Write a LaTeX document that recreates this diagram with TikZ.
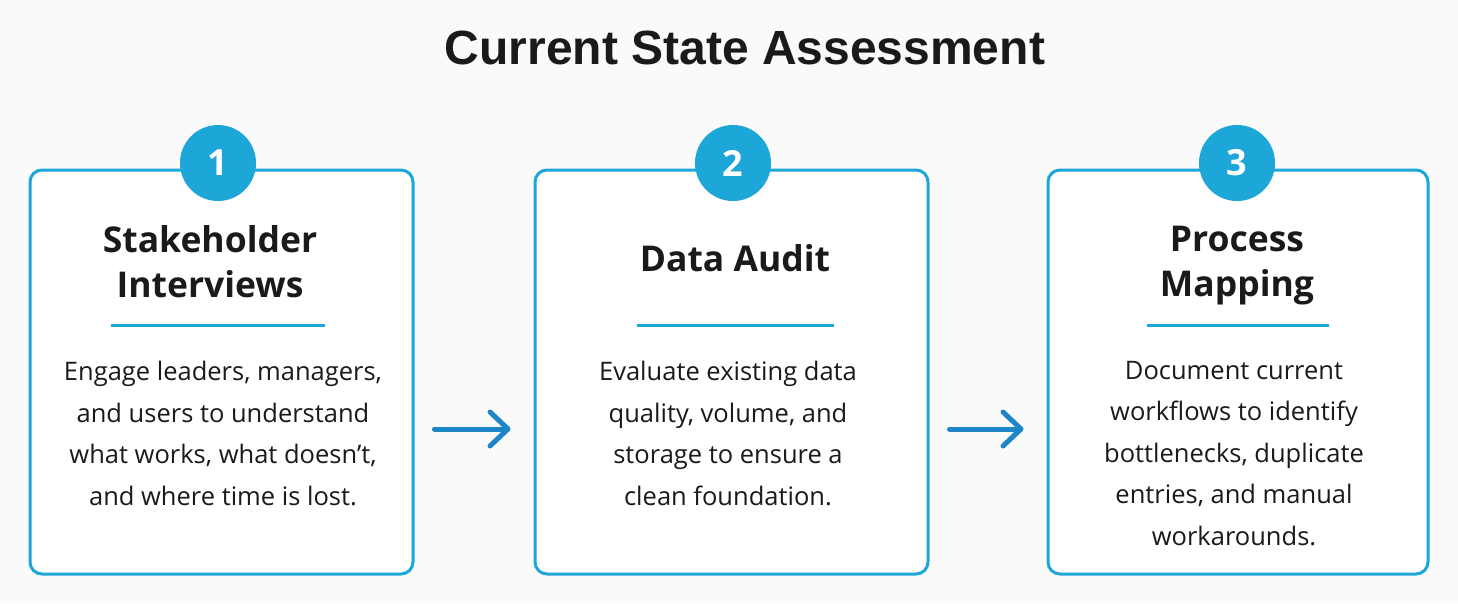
\documentclass[tikz,border=0pt]{standalone}
\usepackage{fontspec}
\setmainfont{Open Sans}
\newfontfamily\titlefont{Liberation Sans}
\usetikzlibrary{arrows.meta, positioning}

\definecolor{boxblue}{HTML}{1DA6D8}
\definecolor{arrowblue}{HTML}{1C86C6}
\definecolor{inktext}{HTML}{1A1A1A}

\tikzset{
  stepbox/.style={draw=boxblue, line width=3pt, rounded corners=12pt, fill=white,
    minimum height=404pt, inner sep=0pt},
  badge/.style={circle, fill=boxblue, minimum size=76pt, inner sep=0pt, text=white,
    font=\fontsize{36}{36}\selectfont\bfseries},
  heading/.style={align=center, text=inktext, font=\fontsize{35.5}{45}\selectfont\bfseries},
  divider/.style={draw=boxblue, line width=3pt},
  body/.style={align=center, text=inktext, anchor=north, inner sep=0pt,
    font=\fontsize{25.5}{41.5}\selectfont},
  flow/.style={draw=arrowblue, line width=5pt, line cap=round,
    -{Straight Barb[length=18pt,width=34pt,round]}}
}

\begin{document}
\begin{tikzpicture}[x=1pt, y=-1pt]
    % Background and page size
    \fill[gray!4] (0,0) rectangle (1458,603);

    % Title
    \node[font=\titlefont\bfseries\fontsize{48}{48}\selectfont, text=inktext] (title) at (745,48) {Current State Assessment};

    % The three step boxes
    \node[stepbox, minimum width=383pt] (box1) at (221.5,372) {};
    \node[stepbox, minimum width=393pt] (box2) at (731.5,372) {};
    \node[stepbox, minimum width=380pt] (box3) at (1238,372) {};

    % Number badges on the top edges
    \node[badge] (num1) at (218,163) {1};
    \node[badge] (num2) at (733,163) {2};
    \node[badge] (num3) at (1237,163) {3};

    % Headings
    \node[heading] (head1) at (210,262) {Stakeholder\\Interviews};
    \node[heading] (head2) at (735,258) {Data Audit};
    \node[heading] (head3) at (1237,266) {Process\\Mapping};

    % Dividers under the headings
    \draw[divider] (111,325) -- (325,325);
    \draw[divider] (637,325) -- (834,325);
    \draw[divider] (1147,325) -- (1329,325);

    % Descriptions
    \node[body] (text1) at (223,361) {Engage leaders, managers,\\and users to understand\\what works, what doesn’t,\\and where time is lost.};
    \node[body] (text2) at (728,361) {Evaluate existing data\\quality, volume, and\\storage to ensure a\\clean foundation.};
    \node[body] (text3) at (1234,361) {Document current\\workflows to identify\\bottlenecks, duplicate\\entries, and manual\\workarounds.};

    % Arrows between the steps
    \draw[flow, shorten <=20pt, shorten >=23pt] ([yshift=-57pt]box1.east) -- ([yshift=-57pt]box2.west);
    \draw[flow, shorten <=20pt, shorten >=23pt] ([yshift=-57pt]box2.east) -- ([yshift=-57pt]box3.west);
\end{tikzpicture}
\end{document}
